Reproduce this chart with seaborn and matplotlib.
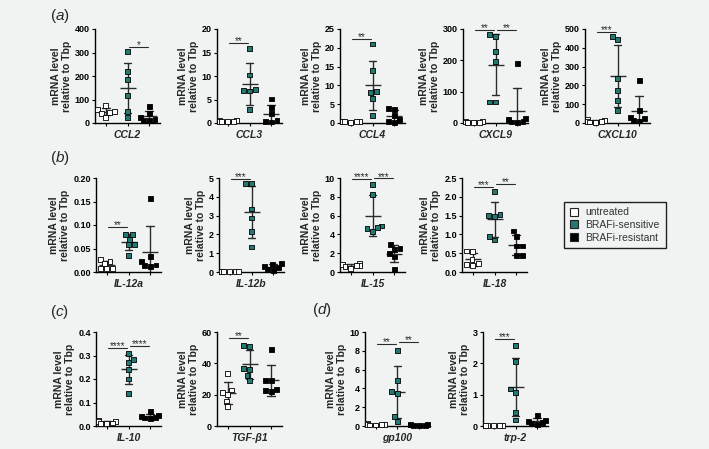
import matplotlib
matplotlib.use('Agg')
import matplotlib.pyplot as plt
from matplotlib.lines import Line2D
from matplotlib.ticker import MultipleLocator, FormatStrFormatter
import seaborn as sns
import pandas as pd

groups = ['untreated', 'BRAFi-sensitive', 'BRAFi-resistant']
fill_colors = ['white', '#227a73', 'black']

# values: untreated / sensitive / resistant, 6 each
ccl2 = [[73, 58, 50, 44, 40, 25], [303, 218, 186, 118, 50, 23], [70, 42, 22, 16, 12, 10]]
ccl3 = [[0.6, 0.5, 0.4, 0.4, 0.3, 0.3], [15.9, 10.2, 7.1, 7.0, 6.8, 2.8], [5.1, 3.3, 2.0, 0.5, 0.3, 0.2]]
ccl4 = [[0.5, 0.4, 0.4, 0.3, 0.3, 0.2], [21.0, 14.0, 8.3, 8.0, 6.6, 2.1], [3.9, 3.6, 2.0, 1.0, 0.3, 0.2]]
cxcl9 = [[6, 4, 3, 2, 2, 1], [283, 277, 227, 195, 67, 67], [190, 15, 10, 6, 3, 2]]
cxcl10 = [[18, 15, 10, 8, 5, 3], [459, 445, 237, 174, 121, 68], [228, 68, 28, 23, 14, 11]]
il12a = [[0.027, 0.022, 0.018, 0.008, 0.007, 0.007], [0.080, 0.079, 0.070, 0.059, 0.058, 0.036],
         [0.156, 0.033, 0.022, 0.015, 0.014, 0.012]]
il12b = [[0.03, 0.02, 0.02, 0.02, 0.01, 0.01], [4.73, 4.73, 3.35, 2.87, 2.16, 1.33], [0.45, 0.4, 0.3, 0.25, 0.15, 0.1]]
il15 = [[0.9, 0.8, 0.7, 0.65, 0.55, 0.4], [9.3, 8.2, 4.9, 4.7, 4.6, 4.35], [2.9, 2.5, 2.4, 2.0, 1.6, 0.3]]
il18 = [[0.56, 0.54, 0.33, 0.22, 0.2, 0.18], [2.13, 1.54, 1.51, 1.48, 0.94, 0.85], [1.09, 0.95, 0.69, 0.69, 0.45, 0.45]]
il10 = [[0.022, 0.02, 0.018, 0.013, 0.01, 0.01], [0.31, 0.284, 0.27, 0.24, 0.2, 0.14],
        [0.062, 0.045, 0.041, 0.038, 0.034, 0.031]]
tgfb1 = [[33.5, 23, 21.5, 20, 16, 12.5], [51.5, 50.5, 36.5, 36, 32.3, 29], [48.7, 29.1, 29.1, 23.4, 22.8, 22]]
gp100 = [[0.25, 0.2, 0.15, 0.15, 0.1, 0.1], [8.04, 4.88, 3.65, 3.47, 1.0, 0.5], [0.15, 0.12, 0.1, 0.08, 0.06, 0.05]]
trp2 = [[0.02, 0.02, 0.01, 0.01, 0.01, 0.01], [2.58, 2.05, 1.18, 1.07, 0.43, 0.19], [0.33, 0.18, 0.14, 0.12, 0.08, 0.06]]

# significance bars: (from group, to group, height, stars)
sig_ccl2 = [(1, 2, 325, '*')]
sig_ccl3 = [(0, 1, 17.1, '**')]
sig_ccl4 = [(0, 1, 22.4, '**')]
sig_cxcl9 = [(0, 1, 297, '**'), (1, 2, 297, '**')]
sig_cxcl10 = [(0, 1, 482, '***')]
sig_il12a = [(0, 1, 0.096, '**')]
sig_il12b = [(0, 1, 4.95, '***')]
sig_il15 = [(0, 1, 9.85, '****'), (1, 2, 9.95, '***')]
sig_il18 = [(0, 1, 2.26, '***'), (1, 2, 2.33, '**')]
sig_il10 = [(0, 1, 0.332, '****'), (1, 2, 0.34, '****')]
sig_tgfb1 = [(0, 1, 56, '**')]
sig_gp100 = [(0, 1, 8.77, '**'), (1, 2, 8.98, '**')]
sig_trp2 = [(0, 1, 2.77, '***')]

bg = '#f1f3f3'
sns.set_theme(style='ticks')
plt.rcParams['font.family'] = ['Liberation Sans', 'DejaVu Sans']
plt.rcParams['mathtext.fontset'] = 'custom'
plt.rcParams['mathtext.rm'] = 'Liberation Sans'
plt.rcParams['mathtext.it'] = 'Liberation Sans:italic'
plt.rcParams['axes.linewidth'] = 1.0
plt.rcParams['axes.edgecolor'] = 'black'

fig = plt.figure(figsize=(7.09, 4.49), dpi=100, facecolor=bg)


def px(x, top, w=65, h=94):
    return [x / 709, 1 - (top + h) / 449, w / 709, h / 449]


def draw_panel(ax, gene, vals, ymax, step, fmt, sigs):
    df = pd.DataFrame({
        'group': [g for g, v in zip(groups, vals) for _ in v],
        'value': [x for v in vals for x in v],
    })
    sns.swarmplot(data=df, x='group', y='value', order=groups, hue='group', hue_order=groups,
                  palette=fill_colors, marker='s', size=3.5, edgecolor='black', linewidth=0.6,
                  legend=False, warn_thresh=1, ax=ax)
    sns.pointplot(data=df, x='group', y='value', order=groups, errorbar='sd', capsize=0.35,
                  linestyle='none', marker='_', markersize=11, markeredgewidth=1.0,
                  color='#2b2b2b', err_kws={'linewidth': 1.0}, ax=ax)
    # points sit on the axis line, error bars stay inside the axes
    for art in ax.collections:
        art.set_clip_on(False)
    for i, j, y, stars in sigs:
        ax.plot([i + 0.05, j - 0.05], [y, y], color='#2b2b2b', lw=0.8, clip_on=False)
        ax.annotate(stars, ((i + j) / 2, y), xytext=(0, -0.8), textcoords='offset points',
                    ha='center', va='baseline', fontsize=7, color='#2b2b2b')
    ax.set_facecolor(bg)
    ax.set_xlim(-0.5, 2.5)
    ax.set_ylim(0, ymax)
    ax.yaxis.set_major_locator(MultipleLocator(step))
    ax.yaxis.set_major_formatter(FormatStrFormatter(fmt))
    ax.set_xticks([0, 1, 2])
    ax.set_xticklabels([])
    ax.tick_params(axis='both', direction='out', length=2.5, width=0.8, colors='black',
                   labelsize=6.5, pad=1.2)
    plt.setp(ax.get_yticklabels(), fontweight='bold')
    ax.set_xlabel(gene, fontsize=7.5, fontweight='bold', style='italic', labelpad=1.5)
    ax.set_ylabel('mRNA level\nrelative to Tbp', fontsize=7.5, fontweight='bold',
                  linespacing=1.15, labelpad=2)
    sns.despine(ax=ax)


panels = [
    (px(95, 29), 'CCL2', ccl2, 400, 100, '%d', sig_ccl2),
    (px(217, 29), 'CCL3', ccl3, 20, 5, '%d', sig_ccl3),
    (px(340, 29), 'CCL4', ccl4, 25, 5, '%d', sig_ccl4),
    (px(463, 29), 'CXCL9', cxcl9, 300, 100, '%d', sig_cxcl9),
    (px(585, 29), 'CXCL10', cxcl10, 500, 100, '%d', sig_cxcl10),
    (px(96, 178), 'IL-12a', il12a, 0.20, 0.05, '%.2f', sig_il12a),
    (px(219, 178), 'IL-12b', il12b, 5, 1, '%d', sig_il12b),
    (px(340, 178), 'IL-15', il15, 10, 2, '%d', sig_il15),
    (px(462, 178), 'IL-18', il18, 2.5, 0.5, '%.1f', sig_il18),
    (px(96, 332), 'IL-10', il10, 0.4, 0.1, '%.1f', sig_il10),
    (px(217, 332), 'TGF-β1', tgfb1, 60, 20, '%d', sig_tgfb1),
    (px(365, 332), 'gp100', gp100, 10, 2, '%d', sig_gp100),
    (px(483, 332), 'trp-2', trp2, 3, 1, '%d', sig_trp2),
]

for rect, gene, vals, ymax, step, fmt, sigs in panels:
    ax = fig.add_axes(rect)
    draw_panel(ax, gene, vals, ymax, step, fmt, sigs)

# panel letters
for letter, x, y in [('a', 50, 16), ('b', 50, 158), ('c', 50, 312), ('d', 312, 310)]:
    fig.text(x / 709, 1 - y / 449, r'$(\mathit{%s})$' % letter, fontsize=11, ha='left', va='center')

handles = [Line2D([], [], linestyle='none', marker='s', markersize=5.5, markerfacecolor=c,
                  markeredgecolor='#222222', markeredgewidth=0.8) for c in fill_colors]
leg = fig.legend(handles, groups, loc='center', bbox_to_anchor=(615 / 709, 1 - 225 / 449),
                 frameon=True, fancybox=False, edgecolor='#222222', facecolor=bg, framealpha=1,
                 fontsize=7.5, handlelength=0.8, handletextpad=0.7, borderpad=0.55, labelspacing=0.25)
leg.get_frame().set_linewidth(1.0)
for t in leg.get_texts():
    t.set_color('#333333')

fig.savefig('out.png', dpi=100, facecolor=bg)
